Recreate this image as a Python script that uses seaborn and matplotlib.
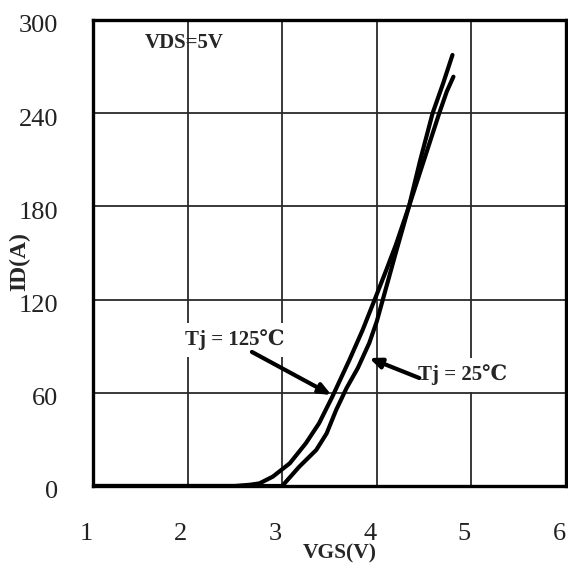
import matplotlib
matplotlib.use("Agg")
import matplotlib.pyplot as plt
import seaborn as sns
import pandas as pd
from matplotlib.transforms import ScaledTranslation

# Transfer characteristics: drain current vs gate-source voltage
vgs_125 = [1.0, 2.50, 2.66, 2.76, 2.90, 3.08, 3.25, 3.39, 3.53, 3.71, 3.85,
           3.99, 4.10, 4.20, 4.34, 4.50, 4.66, 4.74, 4.81]
id_125 = [0, 0, 0.8, 1.7, 6.0, 14.6, 27.5, 40.4, 57.5, 81.1, 100.4,
          121.9, 139, 155, 180, 210, 240, 254, 263.5]

vgs_25 = [1.0, 3.00, 3.18, 3.36, 3.47, 3.57, 3.68, 3.80, 3.92, 4.00,
          4.10, 4.20, 4.34, 4.46, 4.59, 4.70, 4.80]
id_25 = [0, 0, 12.4, 23.2, 33.9, 48.9, 63.0, 76.0, 92.0, 106,
         128, 150, 180, 210, 240, 259, 277.5]

x_ticks = [1, 2, 3, 4, 5, 6]
y_ticks = [0, 60, 120, 180, 240, 300]

label_125 = "Tj = 125℃"
label_25 = "Tj = 25℃"
cond_text = "VDS=5V"

sns.set_style("white")
plt.rcParams["font.family"] = ["Liberation Serif", "DejaVu Serif"]

fig = plt.figure(figsize=(5.68, 5.67), dpi=100)
ax = fig.add_axes([93 / 568, 1 - 486 / 567, 473 / 568, 466 / 567])

df = pd.concat([
    pd.DataFrame({"VGS": vgs_125, "ID": id_125, "Tj": "125"}),
    pd.DataFrame({"VGS": vgs_25, "ID": id_25, "Tj": "25"}),
])
sns.lineplot(data=df, x="VGS", y="ID", hue="Tj", units="Tj",
             palette={"125": "black", "25": "black"}, estimator=None,
             sort=False, linewidth=3.0, legend=False, ax=ax, zorder=4,
             solid_capstyle="round")

ax.set_xlim(1, 6)
ax.set_ylim(0, 300)
ax.set_xticks(x_ticks)
ax.set_yticks(y_ticks)
ax.set_xlabel("")
ax.set_ylabel("")
ax.grid(True, color="#2a2a2a", linewidth=1.3, zorder=1)
ax.set_axisbelow(True)
for sp in ax.spines.values():
    sp.set_linewidth(2.4)
    sp.set_color("black")
    sp.set_zorder(5)

ax.tick_params(axis="both", direction="in", length=6, width=2.5,
               colors="black", labelsize=19, labelcolor="#222222")
ax.tick_params(axis="x", pad=27)
ax.tick_params(axis="y", pad=25)
for lab in ax.get_xticklabels():
    lab.set_transform(lab.get_transform() +
                      ScaledTranslation(-7 / 100, 0, fig.dpi_scale_trans))
for lab in ax.get_yticklabels():
    lab.set_transform(lab.get_transform() +
                      ScaledTranslation(0, -4 / 100, fig.dpi_scale_trans))

# Condition note
ax.text(1.55, 285, cond_text, fontsize=15, fontweight="bold",
        ha="left", va="center", zorder=3)

# Curve labels with arrows
box = dict(facecolor="white", edgecolor="none", pad=5)
ax.text(2.50, 94, label_125, fontsize=15, fontweight="bold",
        ha="center", va="center", bbox=box, zorder=3)
ax.text(4.91, 71.5, label_25, fontsize=15, fontweight="bold",
        ha="center", va="center", bbox=box, zorder=3)
arrow = dict(arrowstyle="-|>,head_length=0.7,head_width=0.3",
             color="black", lw=3, shrinkA=0, shrinkB=0)
ax.annotate("", xy=(3.52, 58.6), xytext=(2.68, 86.3), arrowprops=arrow,
            zorder=6)
ax.annotate("", xy=(3.92, 82.4), xytext=(4.45, 69.5), arrowprops=arrow,
            zorder=6)

# Axis titles
fig.text(340 / 568, 1 - 553 / 567, "VGS(V)", fontsize=15.5,
         fontweight="bold", ha="center", va="center")
fig.text(20 / 568, 1 - 262 / 567, "ID(A)", fontsize=17, fontweight="bold",
         ha="center", va="center", rotation=90)

fig.savefig("out.png", dpi=100)
